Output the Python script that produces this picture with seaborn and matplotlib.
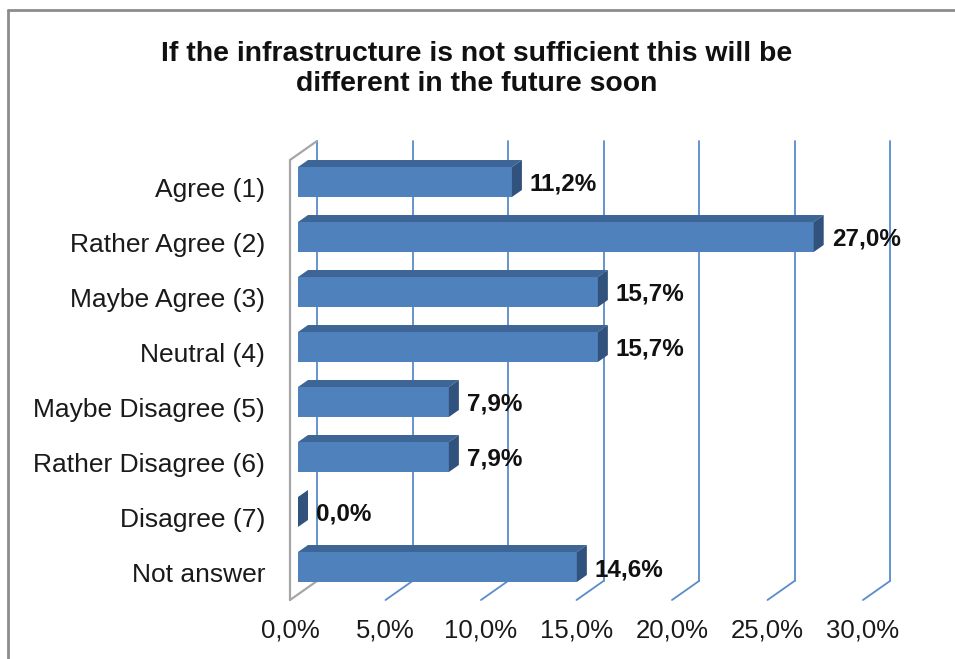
import matplotlib
matplotlib.use("Agg")
import matplotlib.pyplot as plt
from matplotlib.patches import Polygon
from matplotlib.lines import Line2D
import seaborn as sns
import pandas as pd

categories = ["Agree (1)", "Rather Agree (2)", "Maybe Agree (3)", "Neutral (4)",
              "Maybe Disagree (5)", "Rather Disagree (6)", "Disagree (7)", "Not answer"]
values = [11.2, 27.0, 15.7, 15.7, 7.9, 7.9, 0.0, 14.6]
xticks = [0, 5, 10, 15, 20, 25, 30]
title = "If the infrastructure is not sufficient this will be\ndifferent in the future soon"

FRONT = "#4F81BD"
TOP = "#3D6596"
SIDE = "#31527D"
GRID = "#5B8BCB"
WALL = "#A6A6A6"

sns.set_theme(style="white")
plt.rcParams["font.family"] = ["Liberation Sans", "DejaVu Sans"]

W, H = 955, 659
fig = plt.figure(figsize=(W / 100, H / 100), dpi=100)
fig.patch.set_facecolor("white")
ax = fig.add_axes([290 / W, (H - 600) / H, 573 / W, 440 / H])

df = pd.DataFrame({"cat": categories, "val": values})
sns.barplot(data=df, x="val", y="cat", orient="h", color=FRONT, width=0.545,
            saturation=1, ax=ax, zorder=3)

ax.set_xlim(0, 30)
ax.set_ylim(len(categories) - 0.5, -0.5)
for s in ax.spines.values():
    s.set_visible(False)
ax.set_xlabel("")
ax.set_ylabel("")
ax.set_xticks(xticks)
ax.set_xticklabels([f"{t:.1f}%".replace(".", ",") for t in xticks], fontsize=18.5, color="#1a1a1a")
ax.tick_params(axis="x", length=0, pad=13.5)
ax.tick_params(axis="y", length=0, pad=18, labelsize=19, labelcolor="#1a1a1a")

# pixel -> data scale
sx = 30 / 573.0
sy = len(categories) / 440.0  # positive data = downward

def P(x, y, dxp, dyp):
    # dyp: pixels upward
    return (x + dxp * sx, y - dyp * sy)

DX, DY = 27, 19  # depth of the box
y_top, y_bot = -0.5, len(categories) - 0.5

# back wall gridlines and floor diagonals
for t in xticks:
    col = GRID
    ax.add_line(Line2D([P(t, y_bot, DX, DY)[0]] * 2,
                       [P(t, y_bot, DX, DY)[1], P(t, y_top, DX, DY)[1]],
                       color=col, lw=1.3, zorder=0, clip_on=False))
    if t != 0:
        a = P(t, y_bot, 0, 0)
        b = P(t, y_bot, DX, DY)
        ax.add_line(Line2D([a[0], b[0]], [a[1], b[1]], color=col, lw=1.3, zorder=0, clip_on=False))

# left wall (gray)
a = P(0, y_top, 0, 0); b = P(0, y_bot, 0, 0)
ax.add_line(Line2D([a[0], b[0]], [a[1], b[1]], color=WALL, lw=1.6, zorder=1, clip_on=False))
for yy in (y_top, y_bot):
    a = P(0, yy, 0, 0); b = P(0, yy, DX, DY)
    ax.add_line(Line2D([a[0], b[0]], [a[1], b[1]], color=WALL, lw=1.6, zorder=1, clip_on=False))

# 3D bars from the seaborn patches
F = (8, 5.5)   # front face offset
B = (18, 12.5) # back face offset
for p, v in zip(ax.patches, values):
    x0, w, y0, h = p.get_x(), p.get_width(), p.get_y(), p.get_height()
    p.set_x(x0 + F[0] * sx)
    p.set_y(y0 - F[1] * sy)
    p.set_edgecolor("none")
    p.set_clip_on(False)
    x1 = x0 + w
    top = [P(x0, y0, *F), P(x1, y0, *F), P(x1, y0, *B), P(x0, y0, *B)]
    side = [P(x1, y0, *F), P(x1, y0 + h, *F), P(x1, y0 + h, *B), P(x1, y0, *B)]
    ax.add_patch(Polygon(top, closed=True, facecolor=TOP, edgecolor="none", zorder=3, clip_on=False))
    ax.add_patch(Polygon(side, closed=True, facecolor=SIDE, edgecolor="none", zorder=3, clip_on=False))
    lx, ly = P(x1, y0 + h / 2, 26, 3)
    ax.text(lx, ly, f"{v:.1f}%".replace(".", ","), ha="left", va="center",
            fontsize=17.5, fontweight="bold", color="#111111", zorder=5, clip_on=False)

fig.text(476.5 / W, 1 - 69 / H, title, ha="center", va="center", fontsize=20.4,
         fontweight="bold", color="#111111", linespacing=1.17)

# chart border (top & left)
fig.add_artist(Line2D([8 / W, 8 / W], [0, 1 - 10 / H], color="#8C8C8C", lw=2, transform=fig.transFigure))
fig.add_artist(Line2D([8 / W, 1], [1 - 10 / H, 1 - 10 / H], color="#8C8C8C", lw=2, transform=fig.transFigure))

fig.savefig("out.png", dpi=100)
